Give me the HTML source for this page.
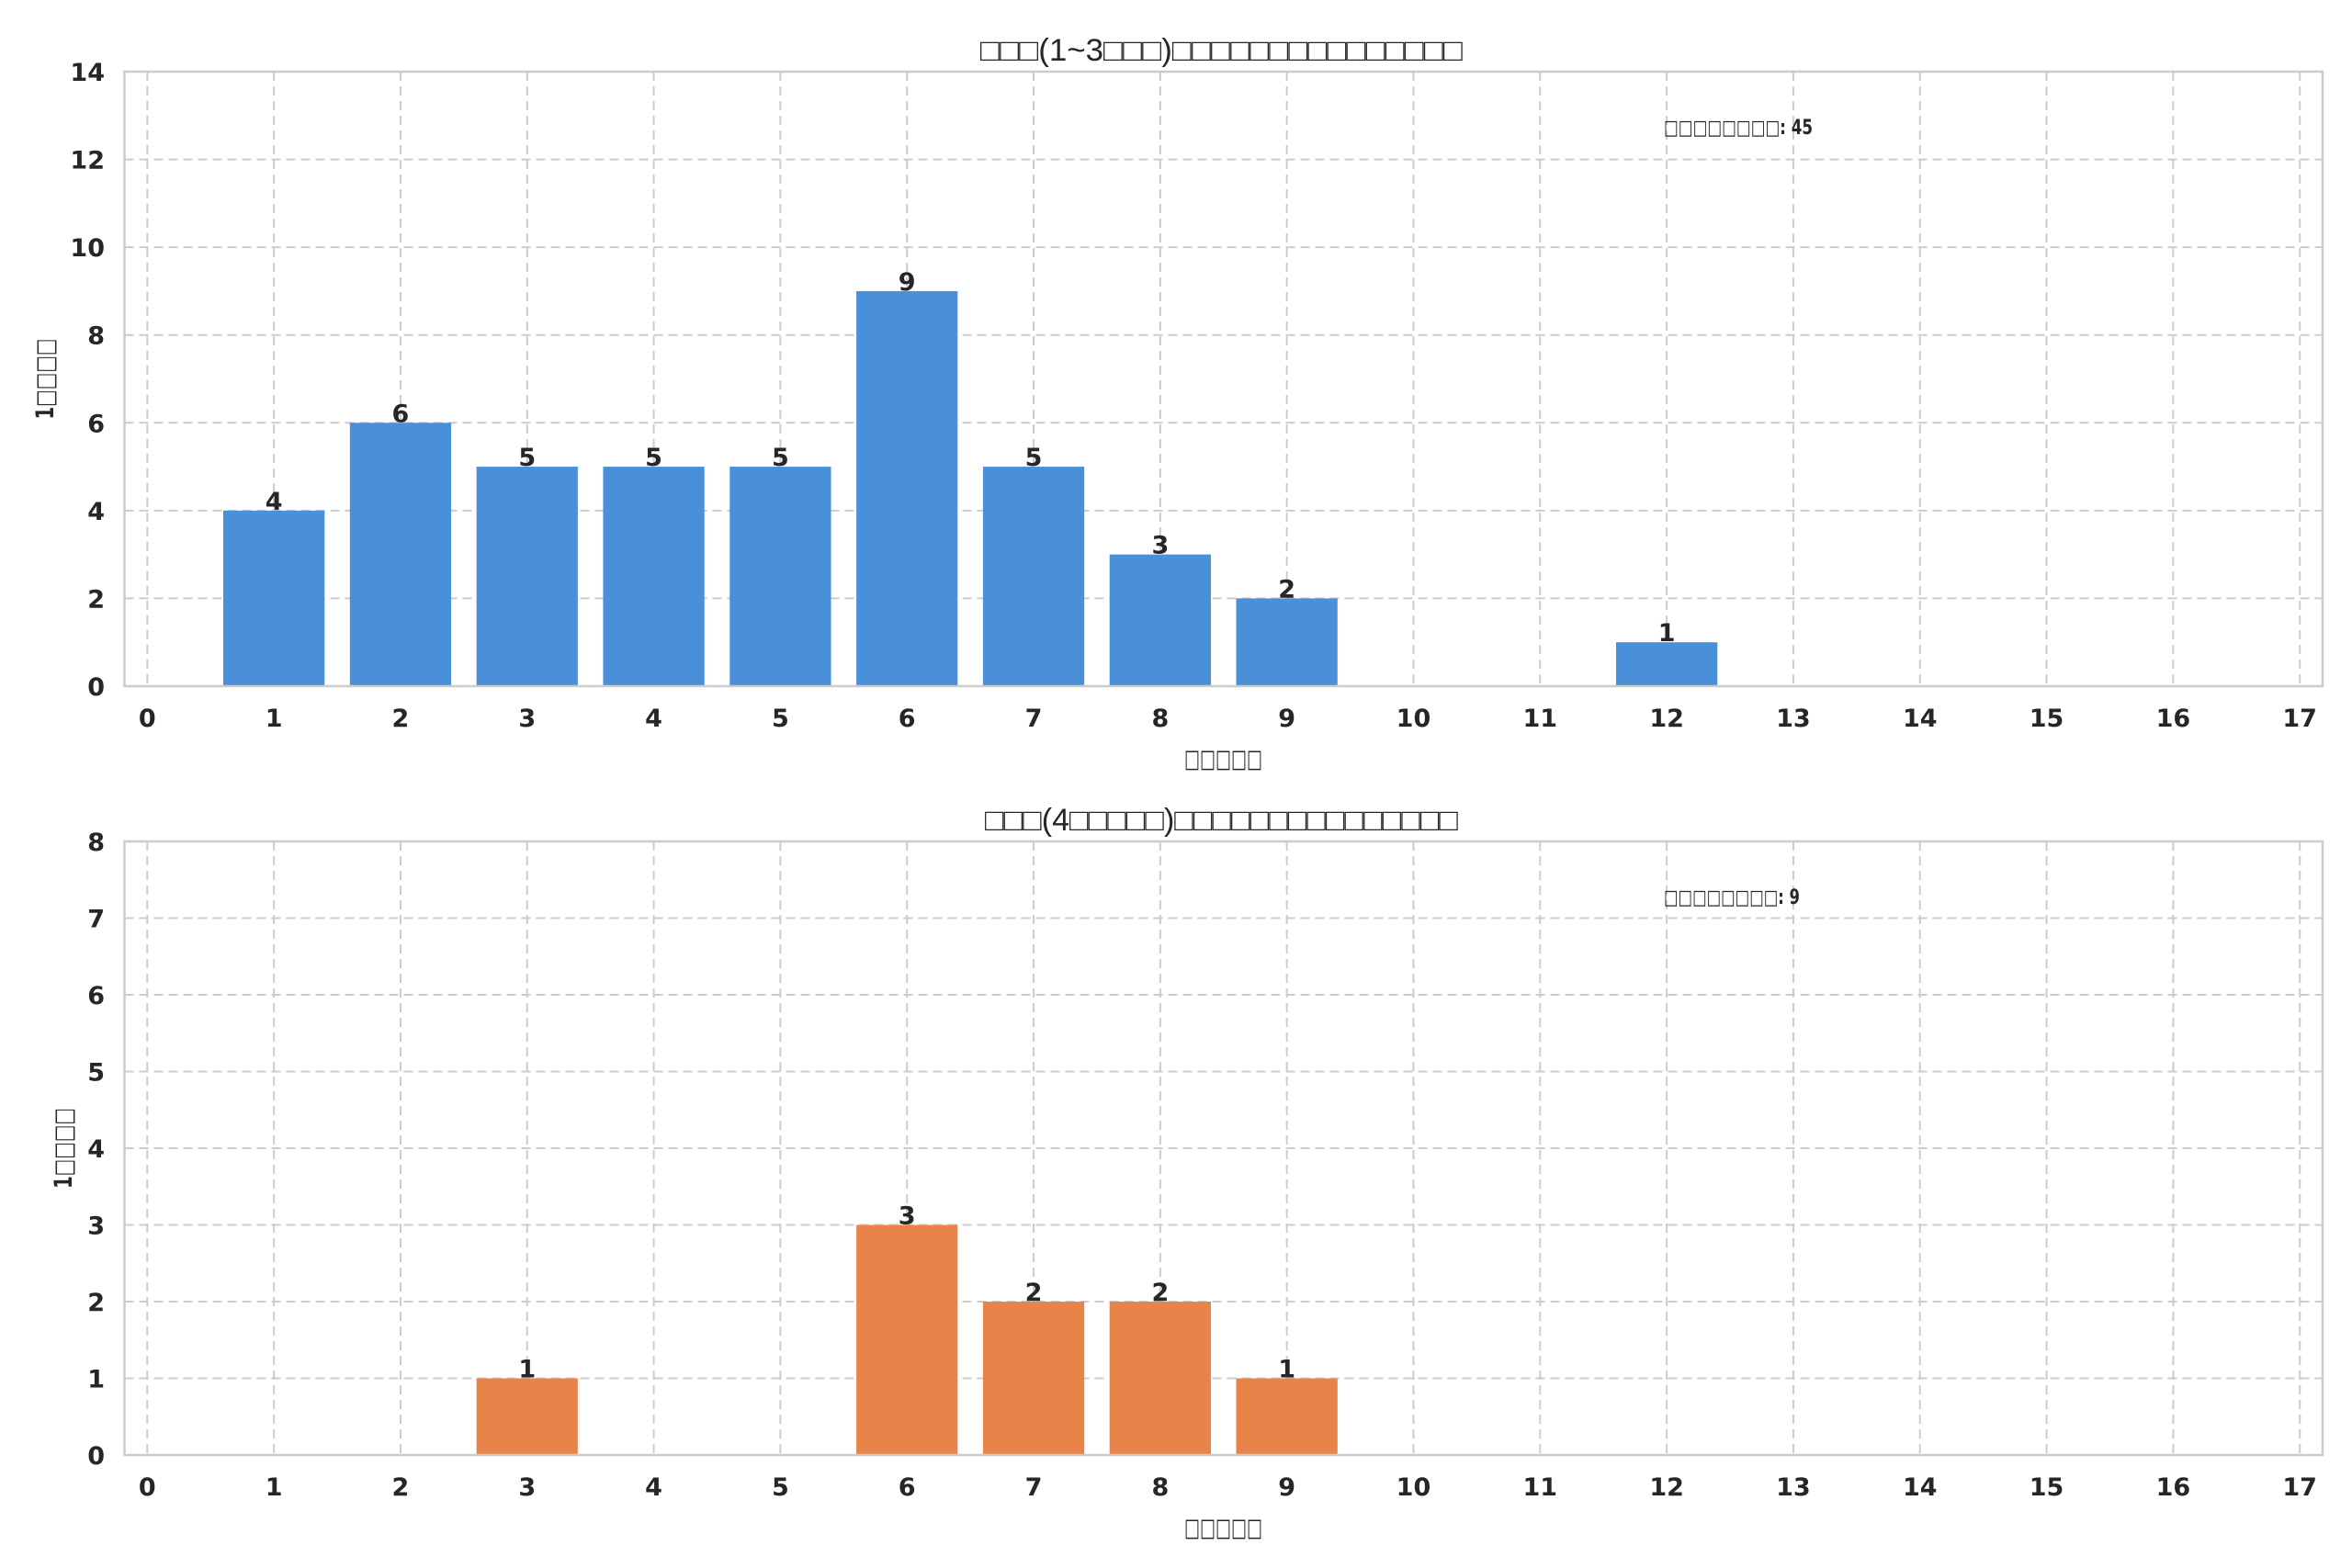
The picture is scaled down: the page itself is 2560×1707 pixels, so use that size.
<!DOCTYPE html>
<html><head><meta charset="utf-8"><style>
html,body{margin:0;padding:0;background:#fff}
svg{display:block}
text{font-family:"DejaVu Sans","Liberation Sans",sans-serif;fill:#262626}
</style></head><body>
<svg id="chart" width="2560" height="1707" viewBox="0 0 2560 1707" xmlns="http://www.w3.org/2000/svg"></svg>
<script>
const xTicks = [0,1,2,3,4,5,6,7,8,9,10,11,12,13,14,15,16,17];
const topCats = [1,2,3,4,5,6,7,8,9,12];
const topVals = [4,6,5,5,5,9,5,3,2,1];
const topYTicks = [0,2,4,6,8,10,12,14];
const botCats = [3,6,7,8,9];
const botVals = [1,3,2,2,1];
const botYTicks = [0,1,2,3,4,5,6,7,8];
const topTotal = 45;
const botTotal = 9;

const NS = "http://www.w3.org/2000/svg";
const svg = document.getElementById('chart');
function mk(tag, attrs, parent){const e=document.createElementNS(NS,tag);for(const k in attrs)e.setAttribute(k,attrs[k]);(parent||svg).appendChild(e);return e;}

function panel(cfg){
  const L=135.5,R=2528,T=cfg.top,B=cfg.bottom;
  const xmin=-0.18,xmax=17.18;
  const sx=v=>L+(v-xmin)/(xmax-xmin)*(R-L);
  const sy=v=>B-(v/cfg.ymax)*(B-T);
  const g=mk('g',{});
  
  
  xTicks.forEach(t=>{
    const l=mk('line',{x1:sx(t),x2:sx(t),y1:T,y2:B,stroke:'#cccccc','stroke-width':2,'stroke-dasharray':'10,6'},g);
    
    
  });
  cfg.yTicks.forEach(t=>{
    const l=mk('line',{x1:L,x2:R,y1:sy(t),y2:sy(t),stroke:'#cccccc','stroke-width':2,'stroke-dasharray':'10,6'},g);
    
    
  });
  cfg.cats.forEach((c,i)=>{
    const v=cfg.vals[i];
    const r=mk('rect',{x:sx(c-0.4),y:sy(v),width:sx(c+0.4)-sx(c-0.4),height:sy(0)-sy(v),fill:cfg.color},g);
    
    
    const t=mk('text',{x:sx(c),y:sy(v)-1,'text-anchor':'middle','font-size':27,'font-weight':'bold'},g);
    t.textContent=v;
    
    
  });
  const sp=mk('rect',{x:L,y:T,width:R-L,height:B-T,fill:'none',stroke:'#cccccc','stroke-width':2.5},g);
  
  
  xTicks.forEach(t=>{
    const e=mk('text',{x:sx(t),y:B+44,'text-anchor':'middle','font-size':27,'font-weight':'bold'},g);
    e.textContent=t;
    
    
  });
  cfg.yTicks.forEach(t=>{
    const e=mk('text',{x:114,y:sy(t)+10,'text-anchor':'end','font-size':27,'font-weight':'bold'},g);
    e.textContent=t;
    
    
  });
  const ti=mk('text',{x:cfg.titleX,y:cfg.titleY,'font-size':34,textLength:cfg.titleW,lengthAdjust:'spacingAndGlyphs',style:'font-family:"Liberation Sans",sans-serif'},g);
  ti.textContent=cfg.title;
  
  
  const xl=mk('text',{x:1289,y:B+88,'font-size':27,textLength:85,lengthAdjust:'spacingAndGlyphs'},g);
  xl.textContent='□□□□□';
  
  
  const yc=(T+B)/2;
  const yl=mk('text',{x:0,y:0,'font-size':27,'font-weight':'bold','text-anchor':'middle',transform:`translate(${cfg.ylabX},${yc}) rotate(-90)`,textLength:88,lengthAdjust:'spacingAndGlyphs'},g);
  yl.textContent='1□□□□';
  
  
  const an=mk('text',{x:1811,y:cfg.annY,'font-size':22,'font-weight':'bold',textLength:cfg.annW,lengthAdjust:'spacingAndGlyphs'},g);
  an.textContent='□□□□□□□□: '+cfg.total;
  
  
}
panel({name:'top-panel',top:78,bottom:747,ymax:14,yTicks:topYTicks,cats:topCats,vals:topVals,color:'#4a90d9',
  title:'□□□(1~3□□□)□□□□□□□□□□□□□□□',titleX:1067,titleY:66,titleW:525,ylabX:58,annY:146,annW:162,total:topTotal});
panel({name:'bottom-panel',top:916,bottom:1584,ymax:8,yTicks:botYTicks,cats:botCats,vals:botVals,color:'#e8834a',
  title:'□□□(4□□□□□)□□□□□□□□□□□□□□□',titleX:1072,titleY:904,titleW:515,ylabX:78,annY:984,annW:148,total:botTotal});
</script>
</body></html>
